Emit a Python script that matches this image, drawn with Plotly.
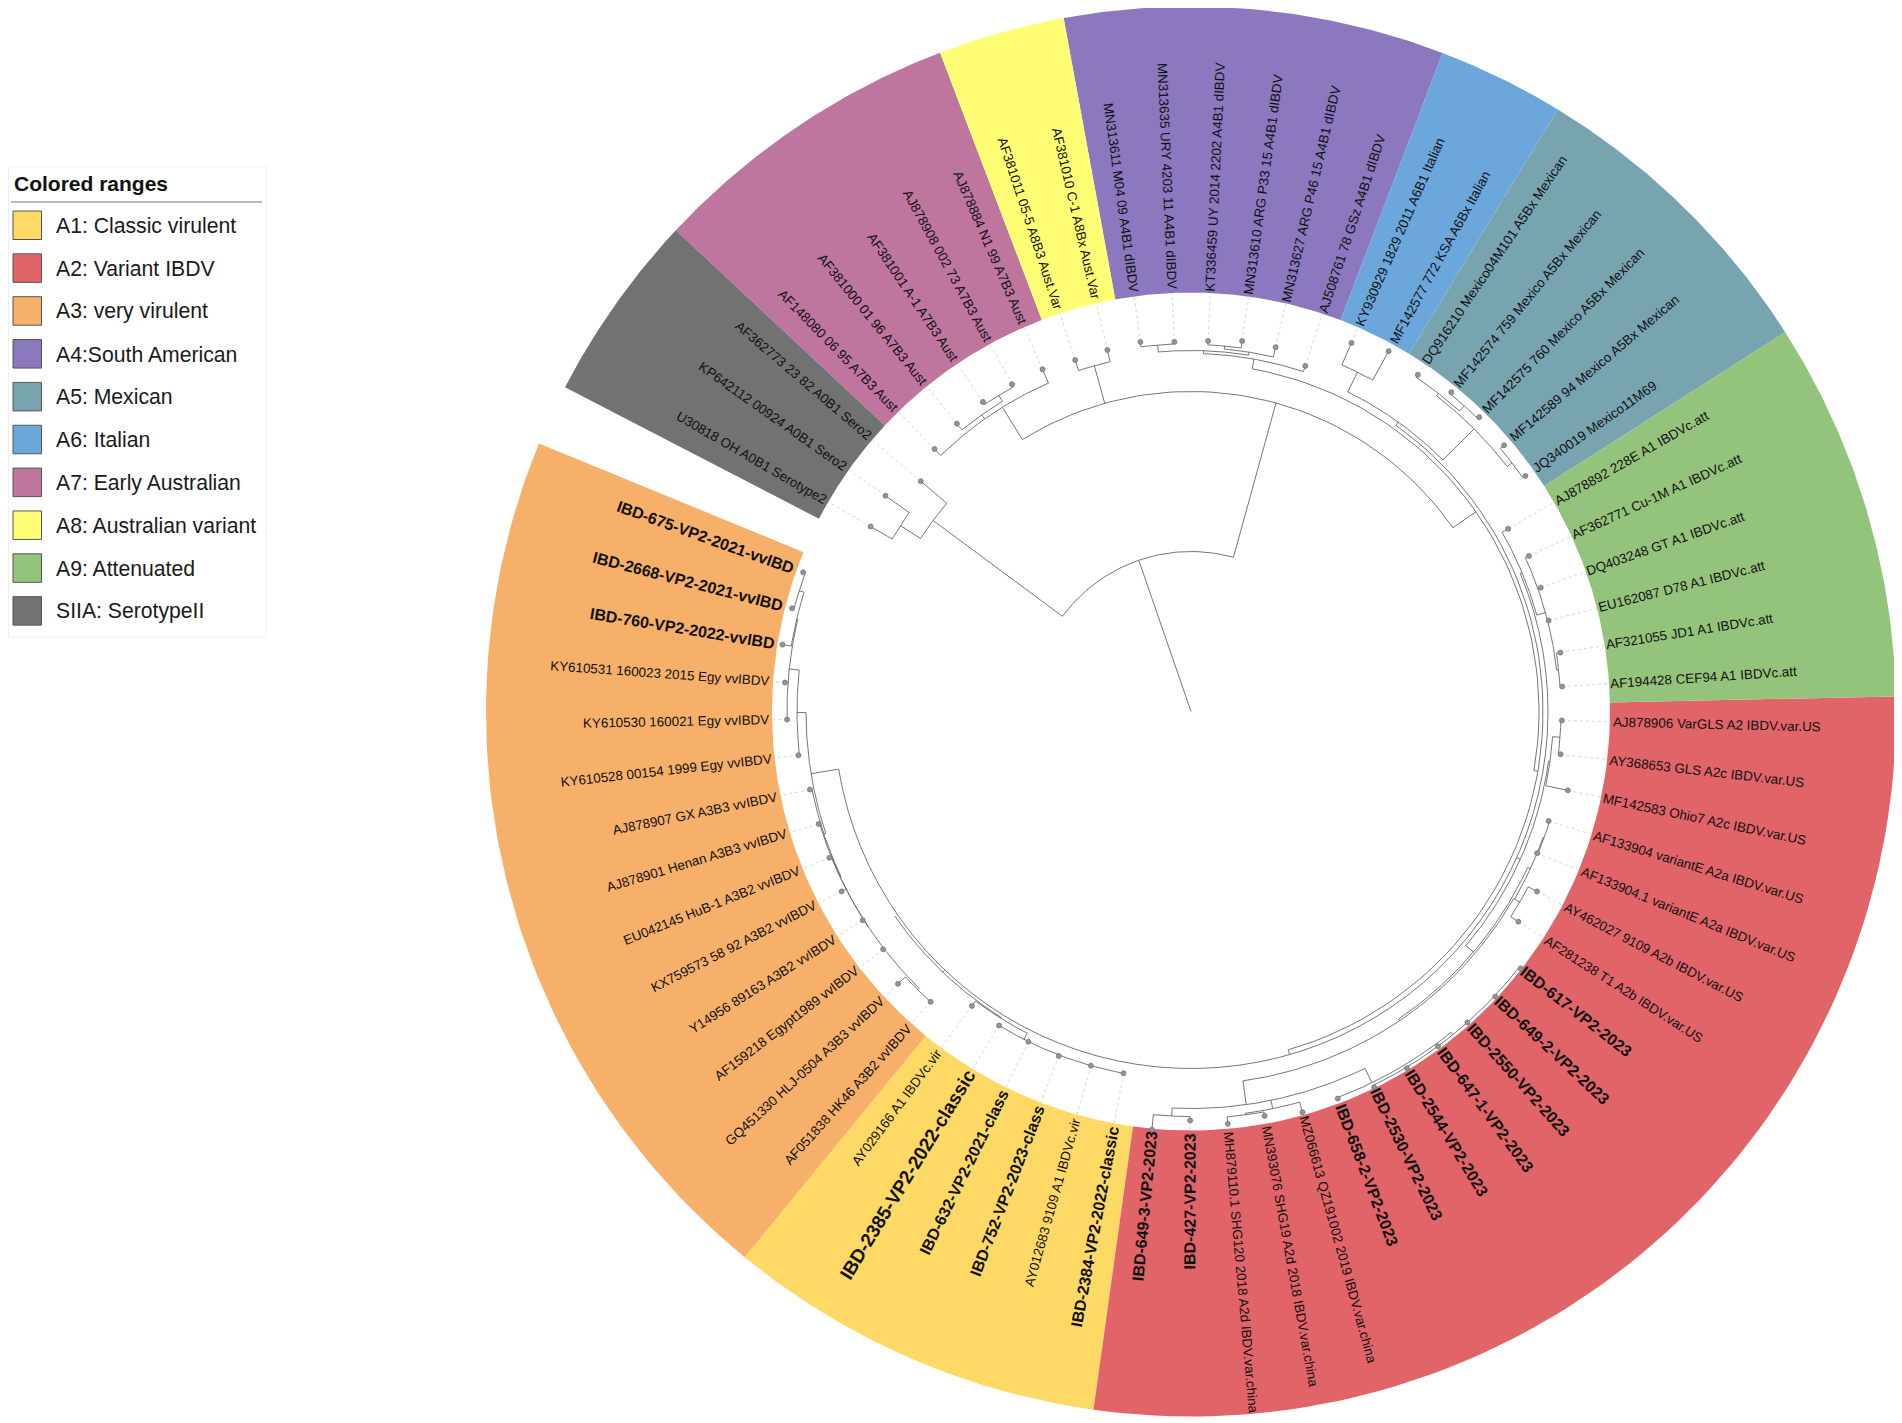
import numpy as np
import plotly.graph_objects as go

# ring geometry (px)
CX, CY = 1191, 711.5
R_IN, R_OUT = 419, 705
START_ANGLE = 150
STEP = 5.22
PAGE_MARGIN = 8  # the browser's body margin around the plot div

LEAF_NAMES = [
    "U30818 OH A0B1 Serotype2", "KP642112 00924 A0B1 Sero2", "AF362773 23 82 A0B1 Sero2",
    "AF148080 06 95 A7B3 Aust", "AF381000 01 96 A7B3 Aust", "AF381001 A-1 A7B3 Aust",
    "AJ878908 002 73 A7B3 Aust", "AJ878884 N1 99 A7B3 Aust",
    "AF381011 05-5 A8B3 Aust.Var", "AF381010 C-1 A8Bx Aust.Var",
    "MN313611 M04 09 A4B1 dIBDV", "MN313635 URY 4203 11 A4B1 dIBDV", "KT336459 UY 2014 2202 A4B1 dIBDV",
    "MN313610 ARG P33 15 A4B1 dIBDV", "MN313627 ARG P46 15 A4B1 dIBDV", "AJ508761 78 GSz A4B1 dIBDV",
    "KY930929 1829 2011 A6B1 Italian", "MF142577 772 KSA A6Bx Italian",
    "DQ916210 Mexico04M101 A5Bx Mexican", "MF142574 759 Mexico A5Bx Mexican",
    "MF142575 760 Mexico A5Bx Mexican", "MF142589 94 Mexico A5Bx Mexican", "JQ340019 Mexico11M69",
    "AJ878892 228E A1 IBDVc.att", "AF362771 Cu-1M A1 IBDVc.att", "DQ403248 GT A1 IBDVc.att",
    "EU162087 D78 A1 IBDVc.att", "AF321055 JD1 A1 IBDVc.att", "AF194428 CEF94 A1 IBDVc.att",
    "AJ878906 VarGLS A2 IBDV.var.US", "AY368653 GLS A2c IBDV.var.US", "MF142583 Ohio7 A2c IBDV.var.US",
    "AF133904 variantE A2a IBDV.var.US", "AF133904.1 variantE A2a IBDV.var.US",
    "AY462027 9109 A2b IBDV.var.US", "AF281238 T1 A2b IBDV.var.US",
    "IBD-617-VP2-2023", "IBD-649-2-VP2-2023", "IBD-2550-VP2-2023", "IBD-647-1-VP2-2023",
    "IBD-2544-VP2-2023", "IBD-2530-VP2-2023", "IBD-658-2-VP2-2023",
    "MZ066613 QZ191002 2019 IBDV.var.china", "MN393076 SHG19 A2d 2018 IBDV.var.china",
    "MH879110.1 SHG120 2018 A2d IBDV.var.china", "IBD-427-VP2-2023", "IBD-649-3-VP2-2023",
    "IBD-2384-VP2-2022-classic", "AY012683 9109 A1 IBDVc.vir", "IBD-752-VP2-2023-class",
    "IBD-632-VP2-2021-class", "IBD-2385-VP2-2022-classic", "AY029166 A1 IBDVc.vir",
    "AF051838 HK46 A3B2 vvIBDV", "GQ451330 HLJ-0504 A3B3 vvIBDV", "AF159218 Egypt1989 vvIBDV",
    "Y14956 89163 A3B2 vvIBDV", "KX759573 58 92 A3B2 vvIBDV", "EU042145 HuB-1 A3B2 vvIBDV",
    "AJ878901 Henan A3B3 vvIBDV", "AJ878907 GX A3B3 vvIBDV", "KY610528 00154 1999 Egy vvIBDV",
    "KY610530 160021 Egy vvIBDV", "KY610531 160023 2015 Egy vvIBDV",
    "IBD-760-VP2-2022-vvIBD", "IBD-2668-VP2-2021-vvIBD", "IBD-675-VP2-2021-vvIBD",
]

# distance of each leaf dot from the centre
LEAF_RADIUS = [
    370, 374, 355, 367, 371, 373, 373, 373, 370, 371,
    373, 370, 371, 374, 374, 364, 402, 411, 406, 412,
    412, 411, 409, 366, 372, 371, 369, 374, 372, 371,
    372, 385, 374, 374, 390, 389, 418, 417, 416, 416,
    417, 418, 414, 416, 411, 414, 409, 420, 368, 368,
    369, 368, 368, 367, 390, 400, 389, 389, 393, 390,
    389, 389, 395, 404, 407, 414, 412, 412,
]

# groups: legend text, colour, first leaf, last leaf
RANGE_NAMES = ["A1: Classic virulent", "A2: Variant IBDV", "A3: very virulent", "A4:South American",
               "A5: Mexican", "A6: Italian", "A7: Early Australian", "A8: Australian variant",
               "A9: Attenuated", "SIIA: SerotypeII"]
RANGE_COLORS = ["#FFD966", "#E06468", "#F6B06A", "#8B78BE", "#78A4B0",
                "#6BA7DB", "#BE759E", "#FFFF75", "#94C47C", "#727272"]
RANGE_FIRST = [48, 29, 54, 10, 18, 16, 3, 8, 23, 0]
RANGE_LAST = [53, 47, 67, 15, 22, 17, 7, 9, 28, 2]

BOLD_SIZE = {52: 19}


def N(r, *children, angle=None):
    return {"r": r, "children": children, "angle": angle}


# the tree: N(radius of the node, children...), ints are leaves
A4 = N(358, N(361, N(368, 10, 11), N(364, N(367, 12, 13), 14)), 15)
A6 = N(378, 16, 17)
A5 = N(400, N(403, 18, N(410, 19, 20)), N(406, 21, 22))
A9 = N(359, 23, N(368, 24, 25, 26, N(370, 27, 28)))
US = N(362.5, N(370, 29, 30), 31)
A2_B = N(374, N(375, 32, 33), N(380, 34, 35))
CHINA = N(397, N(405, 46, 47), N(405.5, N(407, 44, 45), 43),
          N(413, 42, N(416, 36, 37, 38, 39, 40, 41), angle=-64.02), angle=-82)
A2 = N(361, US, N(371, A2_B, N(373, CHINA, N(373, angle=-30))))
A1 = N(361, 53, N(368, 48, 49, 50, 51, 52, angle=-117))
A3_LOW = N(387, 61, N(388, 60, N(388, N(390, 54, 55), 56, 57, 58, 59)))
A3_TOP = N(394, N(404, 63, 64, N(405, N(410, 66, 67), 65)), 62)
A3 = N(385, A3_TOP, A3_LOW)
REST = N(352, N(356, A6, A5), N(357, A9, A2, N(360, A1, N(360, angle=-145.4)), A3))
EARLY = N(358, 3, N(363, 4, N(370, 5, 6)), 7, angle=121.8)
MAIN = N(320, EARLY, N(359, 8, 9), N(348, A4, REST), angle=74.6)
SERO = N(321, N(345, 0, 1), 2)
ROOT = N(160, SERO, MAIN)

REGULAR_W = {"i": .222, "j": .222, "l": .222, "f": .278, "t": .278, "I": .278, " ": .278, ".": .278,
             "-": .333, "r": .333, "c": .5, "k": .5, "s": .5, "v": .5, "x": .5, "y": .5, "z": .5, "J": .5,
             "m": .833, "M": .833, "C": .722, "D": .722, "H": .722, "N": .722, "R": .722, "U": .722,
             "G": .778, "O": .778, "Q": .778, "F": .611, "T": .611, "A": .667, "B": .667, "E": .667,
             "K": .667, "P": .667, "S": .667, "V": .667, "X": .667, "Y": .667}
BOLD_W = {"I": .278, " ": .278, "-": .333, "B": .722, "D": .722, "l": .278, "i": .278,
          "V": .667, "P": .667}


def leaf_angle(i):
    return START_ANGLE - STEP * i


def polar(r, deg):
    a = np.radians(deg)
    return CX + r * np.cos(a), CY - r * np.sin(a)


def is_bold(name):
    return name.startswith("IBD-")


def text_len(name, size):
    table = BOLD_W if is_bold(name) else REGULAR_W
    return sum(table.get(c, .556) for c in name) * size


line_x, line_y = [], []


def add_path(xs, ys):
    line_x.extend(xs)
    line_y.extend(ys)
    line_x.append(None)
    line_y.append(None)


def node_angle(node):
    if isinstance(node, int):
        return leaf_angle(node)
    if node["angle"] is not None:
        return node["angle"]
    angs = [node_angle(c) for c in node["children"]]
    return (max(angs) + min(angs)) / 2


def node_radius(node):
    return LEAF_RADIUS[node] if isinstance(node, int) else node["r"]


def draw_node(node):
    angs = [node_angle(c) for c in node["children"]]
    if not angs:
        angs = [node["angle"]]
    angs.append(node_angle(node))
    t = np.linspace(min(angs), max(angs), 60)
    xs, ys = polar(node["r"], t)
    add_path(xs.tolist(), ys.tolist())
    for c in node["children"]:
        a = node_angle(c)
        x0, y0 = polar(node["r"], a)
        x1, y1 = polar(node_radius(c), a)
        add_path([x0, x1], [y0, y1])
        if not isinstance(c, int):
            draw_node(c)


draw_node(ROOT)
# stem from the centre out to the first node
x_end, y_end = polar(ROOT["r"], node_angle(ROOT))
add_path([CX, x_end], [CY, y_end])

fig = go.Figure()

# coloured ranges
for name, col, first, last in zip(RANGE_NAMES, RANGE_COLORS, RANGE_FIRST, RANGE_LAST):
    t = np.linspace(leaf_angle(first - .5), leaf_angle(last + .5), 80)
    xo, yo = polar(R_OUT, t)
    xi, yi = polar(R_IN, t[::-1])
    fig.add_trace(go.Scatter(x=np.r_[xo, xi, xo[0]], y=np.r_[yo, yi, yo[0]], mode="lines",
                             fill="toself", fillcolor=col, line=dict(width=0), name=name,
                             hoverinfo="name", showlegend=False))

# dotted leaders from leaf to ring
lead_x, lead_y = [], []
for i, r in enumerate(LEAF_RADIUS):
    if r < R_IN:
        x0, y0 = polar(r, leaf_angle(i))
        x1, y1 = polar(R_IN, leaf_angle(i))
        lead_x += [x0, x1, None]
        lead_y += [y0, y1, None]
fig.add_trace(go.Scatter(x=lead_x, y=lead_y, mode="lines", hoverinfo="skip", showlegend=False,
                         line=dict(color="#d6d6d6", width=1, dash="dot")))

fig.add_trace(go.Scatter(x=line_x, y=line_y, mode="lines", hoverinfo="skip", showlegend=False,
                         line=dict(color="#666666", width=0.9)))

dots = [polar(r, leaf_angle(i)) for i, r in enumerate(LEAF_RADIUS)]
fig.add_trace(go.Scatter(x=[d[0] for d in dots], y=[d[1] for d in dots], mode="markers",
                         text=LEAF_NAMES, hoverinfo="text", showlegend=False,
                         marker=dict(size=5, color="#949494", line=dict(color="#777777", width=0.8))))

# leaf labels, rotated with the ring
annots = []
for i, name in enumerate(LEAF_NAMES):
    a = leaf_angle(i)
    size = BOLD_SIZE.get(i, 16) if is_bold(name) else 13.4
    left_side = np.cos(np.radians(a)) < 0
    rc = R_IN + (3 if left_side else 1) + text_len(name, size) / 2
    x, y = polar(rc, a)
    rot = 180 - a if left_side else -a
    rot = (rot + 180) % 360 - 180
    annots.append(dict(x=x, y=y, xref="x", yref="y", text="<b>%s</b>" % name if is_bold(name) else name,
                       showarrow=False, textangle=rot, xanchor="center", yanchor="middle",
                       borderpad=0, font=dict(family="Liberation Sans", size=size, color="#111111")))

# colored ranges box
shapes = [dict(type="rect", x0=8.5, x1=266, y0=167, y1=637, line=dict(color="#f0f0f0", width=1),
               fillcolor="white", layer="below"),
          dict(type="line", x0=11, x1=262, y0=202, y1=202, line=dict(color="#777777", width=1.2))]
annots.append(dict(x=11.5, y=183, xref="x", yref="y", text="<b>Colored ranges</b>", showarrow=False,
                   xanchor="left", yanchor="middle", font=dict(family="Liberation Sans", size=21, color="#111111")))
for i, (name, col) in enumerate(zip(RANGE_NAMES, RANGE_COLORS)):
    y0 = 211 + 42.85 * i
    shapes.append(dict(type="rect", x0=13, x1=41.5, y0=y0, y1=y0 + 28.5, fillcolor=col,
                       line=dict(color="#555555", width=1)))
    annots.append(dict(x=54, y=y0 + 14.5, xref="x", yref="y", text=name, showarrow=False,
                       xanchor="left", yanchor="middle",
                       font=dict(family="Liberation Sans", size=21.2, color="#1a1a1a")))

fig.update_layout(
    width=1902 - PAGE_MARGIN, height=1423 - PAGE_MARGIN, margin=dict(l=0, r=0, t=0, b=0),
    paper_bgcolor="white", plot_bgcolor="white", showlegend=False,
    xaxis=dict(range=[PAGE_MARGIN, 1902], visible=False, fixedrange=True),
    yaxis=dict(range=[1423, PAGE_MARGIN], visible=False, fixedrange=True),
    shapes=shapes, annotations=annots,
)

fig.write_html("out.html")
